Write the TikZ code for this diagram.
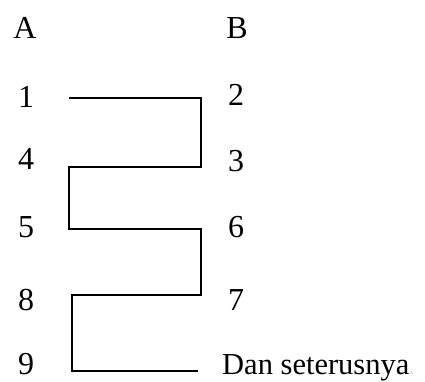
\documentclass[tikz,border=0pt]{standalone}
\usepackage{fontspec}
\setmainfont{Liberation Serif}
\begin{document}
\begin{tikzpicture}[x=1pt,y=-1pt,
  lbl/.style={anchor=base,inner sep=0pt,font=\fontsize{32}{32}\selectfont},
  wire/.style={line width=2pt,line join=miter}]
\useasboundingbox (0,0) rectangle (425,381);
% column headings
\node[lbl] (hA) at (25,38) {A};
\node[lbl] (hB) at (237,38) {B};
% left column
\node[lbl] (n1) at (26,107) {1};
\node[lbl] (n4) at (26,169) {4};
\node[lbl] (n5) at (26,237) {5};
\node[lbl] (n8) at (26,310) {8};
\node[lbl] (n9) at (26,374) {9};
% right column
\node[lbl] (n2) at (236,105) {2};
\node[lbl] (n3) at (236,171) {3};
\node[lbl] (n6) at (236,237) {6};
\node[lbl] (n7) at (236,310) {7};
\node[anchor=base west,inner sep=0pt,font=\fontsize{30.5}{30.5}\selectfont] (more) at (222,374) {Dan seterusnya};
\node[anchor=base west,inner sep=0pt,font=\fontsize{4}{4}\selectfont,text=gray] (mark) at (more.base east) {\,A};
% zigzag order path
\coordinate (p1) at (69,97.5);
\coordinate (p2) at (201,97.5);
\coordinate (p3) at (201,167);
\coordinate (p4) at (69,167);
\coordinate (p5) at (69,229);
\coordinate (p6) at (201,229);
\coordinate (p7) at (201,295);
\coordinate (p8) at (72,295);
\coordinate (p9) at (72,371);
\coordinate (p10) at (198,371);
\draw[wire] (p1) -- (p2) -- (p3) -- (p4) -- (p5) -- (p6) -- (p7) -- (p8) -- (p9) -- (p10);
\end{tikzpicture}
\end{document}
